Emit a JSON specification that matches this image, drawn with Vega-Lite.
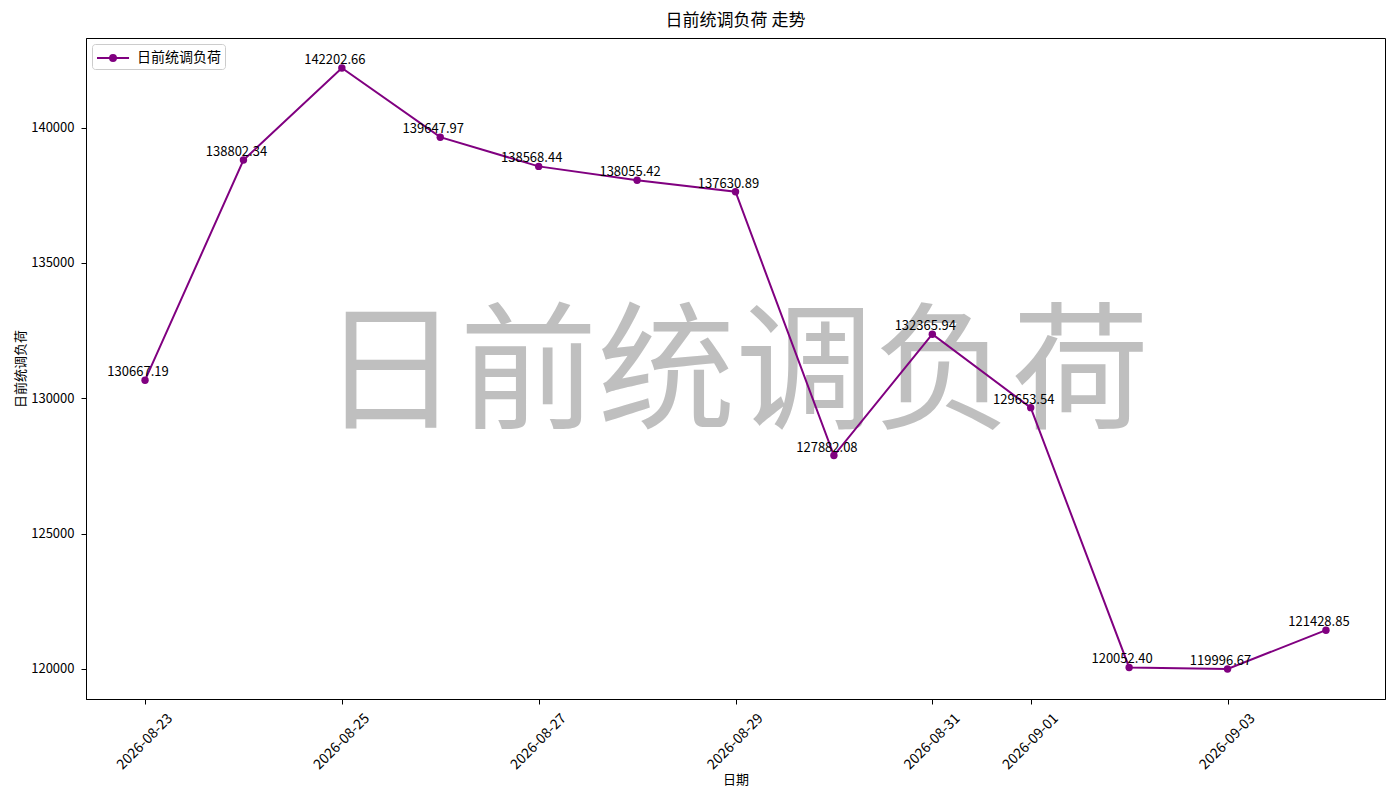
{
  "$schema": "https://vega.github.io/schema/vega-lite/v6.json",
  "description": "日前统调负荷 走势",
  "width": 1299,
  "height": 661,
  "autosize": {"type": "none"},
  "padding": {"left": 86, "top": 38, "right": 15, "bottom": 101},
  "background": "white",
  "title": {
    "text": "日前统调负荷 走势",
    "font": "Noto Sans CJK SC",
    "fontSize": 17,
    "fontWeight": "normal",
    "color": "black",
    "offset": 8
  },
  "config": {
    "font": "Noto Sans CJK SC",
    "view": {"stroke": "black", "strokeWidth": 1},
    "axis": {
      "grid": false,
      "domainColor": "black",
      "tickColor": "black",
      "tickSize": 5,
      "labelColor": "black",
      "labelFontSize": 13,
      "titleFontSize": 13,
      "titleFontWeight": "normal",
      "titleColor": "black"
    }
  },
  "datasets": {
    "load": [
      {"date": "2026-08-23", "value": 130667.19, "series": "日前统调负荷"},
      {"date": "2026-08-24", "value": 138802.34, "series": "日前统调负荷"},
      {"date": "2026-08-25", "value": 142202.66, "series": "日前统调负荷"},
      {"date": "2026-08-26", "value": 139647.97, "series": "日前统调负荷"},
      {"date": "2026-08-27", "value": 138568.44, "series": "日前统调负荷"},
      {"date": "2026-08-28", "value": 138055.42, "series": "日前统调负荷"},
      {"date": "2026-08-29", "value": 137630.89, "series": "日前统调负荷"},
      {"date": "2026-08-30", "value": 127882.08, "series": "日前统调负荷"},
      {"date": "2026-08-31", "value": 132365.94, "series": "日前统调负荷"},
      {"date": "2026-09-01", "value": 129653.54, "series": "日前统调负荷"},
      {"date": "2026-09-02", "value": 120052.40, "series": "日前统调负荷"},
      {"date": "2026-09-03", "value": 119996.67, "series": "日前统调负荷"},
      {"date": "2026-09-04", "value": 121428.85, "series": "日前统调负荷"}
    ],
    "watermark": [{"text": "日前统调负荷"}]
  },
  "layer": [
    {
      "data": {"name": "watermark"},
      "mark": {
        "type": "text",
        "fontSize": 138,
        "color": "gray",
        "opacity": 0.5,
        "align": "center",
        "baseline": "middle",
        "dy": 8
      },
      "encoding": {"text": {"field": "text"}}
    },
    {
      "data": {"name": "load"},
      "encoding": {
        "x": {
          "field": "date",
          "type": "temporal",
          "timeUnit": "yearmonthdate",
          "title": "日期",
          "scale": {
            "domain": [
              {"year": 2026, "month": 8, "date": 22, "hours": 9, "minutes": 36},
              {"year": 2026, "month": 9, "date": 4, "hours": 14, "minutes": 24}
            ]
          },
          "axis": {
            "values": [
              {"year": 2026, "month": 8, "date": 23},
              {"year": 2026, "month": 8, "date": 25},
              {"year": 2026, "month": 8, "date": 27},
              {"year": 2026, "month": 8, "date": 29},
              {"year": 2026, "month": 8, "date": 31},
              {"year": 2026, "month": 9, "date": 1},
              {"year": 2026, "month": 9, "date": 3}
            ],
            "labelExpr": "timeFormat(datum.value, '%Y-%m-%d')",
            "labelFontSize": 14,
            "labelAngle": -45,
            "labelAlign": "right",
            "labelBaseline": "middle",
            "labelOffset": 25,
            "labelPadding": 12,
            "labelFlush": false,
            "labelOverlap": false,
            "titlePadding": 2
          }
        },
        "y": {
          "field": "value",
          "type": "quantitative",
          "title": "日前统调负荷",
          "scale": {"domain": [118886, 143313], "nice": false, "zero": false},
          "axis": {
            "values": [120000, 125000, 130000, 135000, 140000],
            "format": "d",
            "labelPadding": 7,
            "titlePadding": 3
          }
        }
      },
      "layer": [
        {
          "mark": {"type": "line", "strokeWidth": 2},
          "encoding": {
            "color": {
              "field": "series",
              "type": "nominal",
              "scale": {"range": ["purple"]},
              "legend": {
                "title": null,
                "orient": "top-left",
                "offset": 6,
                "padding": 4,
                "strokeColor": "#cccccc",
                "fillColor": "white",
                "cornerRadius": 3,
                "symbolType": "M-1,0H2.56M1.11,0A0.33,0.33,0,1,1,0.45,0A0.33,0.33,0,1,1,1.11,0",
                "symbolSize": 324,
                "symbolStrokeWidth": 2,
                "symbolFillColor": "purple",
                "symbolStrokeColor": "purple",
                "labelFontSize": 14,
                "labelColor": "black",
                "labelOffset": 21
              }
            }
          }
        },
        {
          "mark": {"type": "point", "filled": true, "size": 55, "opacity": 1},
          "encoding": {
            "color": {"field": "series", "type": "nominal", "legend": null}
          }
        },
        {
          "mark": {
            "type": "text",
            "fontSize": 13,
            "color": "black",
            "align": "center",
            "baseline": "alphabetic",
            "dx": -7,
            "dy": -4
          },
          "encoding": {
            "text": {"field": "value", "type": "quantitative", "format": ".2f"}
          }
        }
      ]
    }
  ]
}
